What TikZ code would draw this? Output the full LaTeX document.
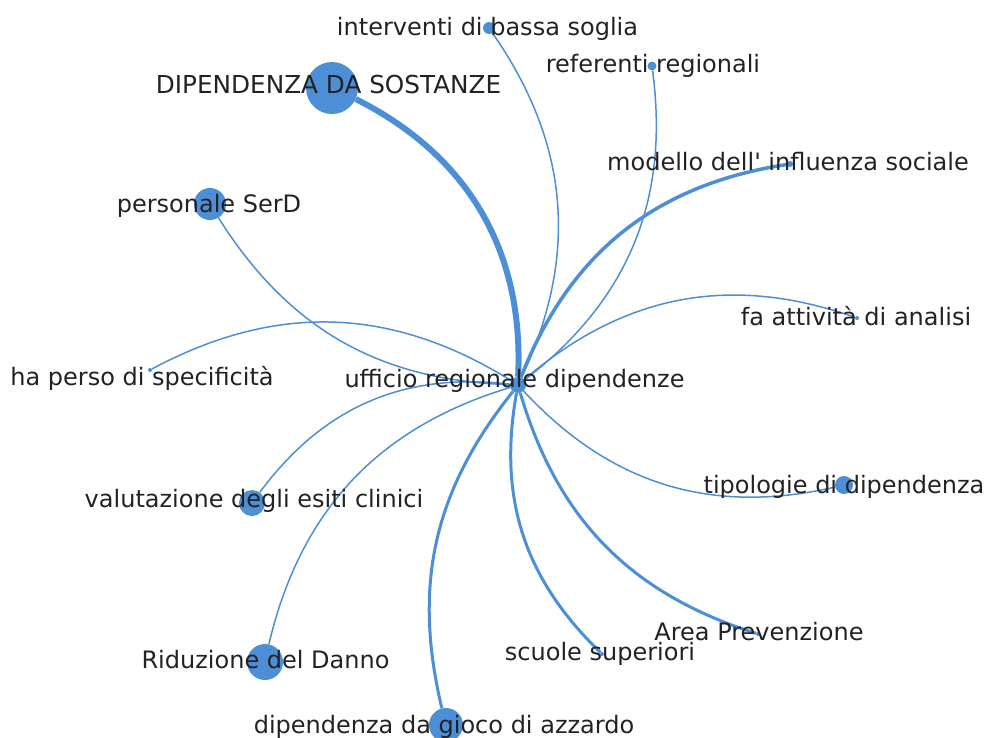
\documentclass[tikz,border=0pt]{standalone}
\usepackage{fontspec}
\setmainfont{DejaVu Sans}
\definecolor{edgeblue}{HTML}{4C8FD6}
\definecolor{labelgray}{HTML}{222222}
\begin{document}
\begin{tikzpicture}[x=1pt,y=-1pt,
  dot/.style={circle,fill=edgeblue,draw=none,inner sep=0pt,minimum size=#1},
  lbl/.style={anchor=base,text=labelgray,font=\fontsize{24}{28}\selectfont,inner sep=0pt},
  link/.style={draw=edgeblue,line width=#1},
  thin/.style={link=1.5pt},
  thick/.style={link=3pt}]
\clip (0,0) rectangle (985,737);
% circles
\node[dot=16pt] (c) at (518,385) {};
\node[dot=52pt] (dip) at (332,88) {};
\node[dot=12pt] (int) at (489,28) {};
\node[dot=9pt] (ref) at (652,66) {};
\node[dot=6pt] (mod) at (790,164) {};
\node[dot=4pt] (fa) at (857,318) {};
\node[dot=18pt] (tip) at (844,485) {};
\node[dot=4pt] (area) at (758,634) {};
\node[dot=4pt] (scu) at (602,654) {};
\node[dot=34pt] (gio) at (446,725) {};
\node[dot=36pt] (rid) at (265,662) {};
\node[dot=26pt] (val) at (252,503) {};
\node[dot=4pt] (ha) at (150,370) {};
\node[dot=32pt] (ser) at (210,204) {};
% connectors
\draw[link=6pt] (c) to[bend right=33] (dip);
\draw[thin] (c) to[bend right=30] (int);
\draw[thin] (c) to[bend right=30] (ref);
\draw[link=3.5pt] (c) to[bend left=30] (mod);
\draw[thin] (c) to[bend left=30] (fa);
\draw[thin] (c) to[bend right=30] (tip);
\draw[thick] (c) to[bend right=28] (area);
\draw[thick] (c) to[bend right=28] (scu);
\draw[thick] (c) to[bend right=26] (gio);
\draw[thin] (c) to[bend right=30] (rid);
\draw[thin] (c) to[bend right=30] (val);
\draw[thin] (c) to[bend right=30] (ha);
\draw[thin] (c) to[bend left=28] (ser);
% labels
\node[lbl,font=\fontsize{24.7}{29}\selectfont] (tdip) at (328.5,93) {DIPENDENZA DA SOSTANZE};
\node[lbl] (tint) at (487.5,35) {interventi di bassa soglia};
\node[lbl] (tref) at (653,72) {referenti regionali};
\node[lbl] (tmod) at (788,170) {modello dell\textquotesingle{} influenza sociale};
\node[lbl] (tfa) at (856,325) {fa attività di analisi};
\node[lbl] (tha) at (142,385) {ha perso di specificità};
\node[lbl] (tc) at (514.5,387) {ufficio regionale dipendenze};
\node[lbl] (tser) at (209,212) {personale SerD};
\node[lbl] (tval) at (254,507) {valutazione degli esiti clinici};
\node[lbl] (ttip) at (844,493) {tipologie di dipendenza};
\node[lbl] (tarea) at (759,640) {Area Prevenzione};
\node[lbl] (tscu) at (600,660) {scuole superiori};
\node[lbl] (trid) at (265.5,668) {Riduzione del Danno};
\node[lbl] (tgio) at (444,733) {dipendenza da gioco di azzardo};
\end{tikzpicture}
\end{document}
